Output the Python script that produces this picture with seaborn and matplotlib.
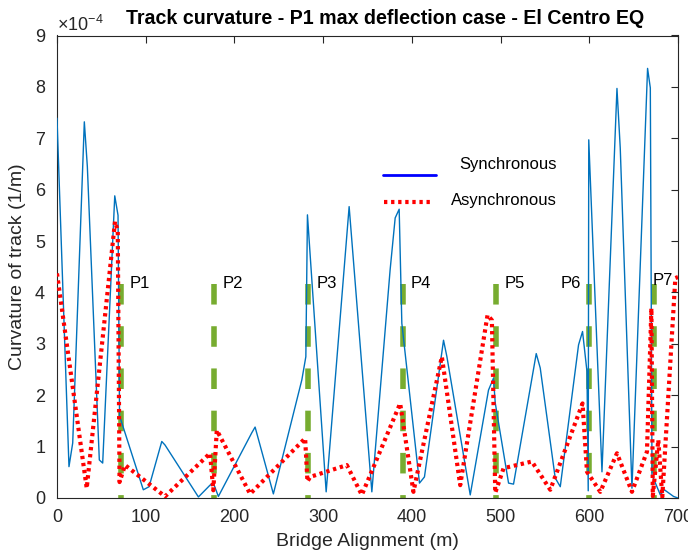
import matplotlib
matplotlib.use("Agg")
import matplotlib.pyplot as plt
from matplotlib.lines import Line2D
import numpy as np
import pandas as pd
import seaborn as sns

# Bridge alignment positions (m) and track curvature (x1e-4 1/m)
sync_x = [0, 13.5, 17.7, 30.8, 34.2, 47.7, 51.5, 65.1, 68.8, 70.5, 97.3, 103.8,
          118.1, 121.8, 159.4, 172.5, 176.3, 181.9, 219.6, 223.3, 243.9, 276.0,
          280.5, 282.3, 303.4, 329.3, 354.9, 375.5, 381.2, 385.7, 388.7, 408.6,
          414.2, 435.7, 439.5, 465.8, 486.4, 492.0, 494.0, 509.0, 514.6, 540.2,
          544.7, 561.6, 567.3, 587.9, 592.4, 597.4, 598.8, 599.4, 614.3, 631.2,
          634.9, 648.1, 665.7, 668.8, 670.7, 680.1, 684.6, 695.0, 700.0]
sync_k = [7.39, 0.61, 1.07, 7.32, 6.45, 0.74, 0.68, 5.88, 5.50, 1.60, 0.16, 0.22,
          1.10, 1.03, 0.02, 0.25, 0.29, 0.03, 1.27, 1.38, 0.08, 2.30,
          2.75, 5.51, 0.12, 5.67, 0.12, 4.44, 5.45, 5.62, 3.40, 0.29,
          0.41, 3.07, 2.75, 0.06, 2.10, 2.33, 1.85, 0.29, 0.27, 2.81,
          2.53, 0.39, 0.22, 2.98, 3.24, 2.46, 0.14, 6.97, 0.51, 7.97,
          6.81, 0.19, 8.36, 7.98, 0.45, 0.06, 0.16, 0.03, 0.0]

async_x = [0, 33.5, 65.4, 68.5, 70.5, 76.7, 121.8, 172.5, 176.2, 180.1, 217.7,
           279.7, 282.3, 285.3, 326.7, 343.6, 386.8, 401.8, 433.8, 454.5, 485.3,
           490.2, 494.0, 503.4, 535.3, 556.0, 592.4, 597.4, 612.4, 631.2, 648.1,
           665.0, 670.0, 671.6, 677.8, 682.3, 697.0, 700.0]
async_k = [4.37, 0.19, 5.38, 5.20, 0.31, 0.64, 0.03, 0.87, 0.15, 1.32, 0.08,
           1.16, 0.32, 0.41, 0.64, 0.06, 1.84, 0.12, 2.75, 0.25, 3.56,
           3.46, 0.10, 0.58, 0.71, 0.16, 1.84, 0.51, 0.12, 0.87, 0.12,
           0.90, 3.69, 0.04, 1.13, 0.02, 4.28, 4.30]

pier_names = ["P1", "P2", "P3", "P4", "P5", "P6", "P7"]
pier_x = [72.2, 176.8, 283.4, 389.5, 495.0, 600.0, 672.5]
pier_mark_height = 4.16

series_names = ["Synchronous", "Asynchronous"]
title = "Track curvature - P1 max deflection case - El Centro EQ"

sns.set_theme(style="white")
plt.rcParams["font.family"] = ["Liberation Sans", "DejaVu Sans"]
plt.rcParams["mathtext.fontset"] = "custom"
plt.rcParams["mathtext.rm"] = "Liberation Sans"

sync_df = pd.DataFrame({"x": sync_x, "k": np.array(sync_k) * 1e-4})
async_df = pd.DataFrame({"x": async_x, "k": np.array(async_k) * 1e-4})

fig = plt.figure(figsize=(6.88, 5.57), dpi=100)
ax = fig.add_axes([57 / 688, 1 - 498 / 557, (678 - 57) / 688, (498 - 35.5) / 557])

dotted = (0, (0.8, 0.9))

# pier markers
for name, px in zip(pier_names, pier_x):
    ax.plot([px, px], [pier_mark_height * 1e-4, 0], color="#77AC30", lw=4.0,
            linestyle=(0, (3.7, 3.9)), solid_capstyle="butt", zorder=2)

sns.lineplot(data=sync_df, x="x", y="k", ax=ax, color="#0072BD", lw=1.0,
             estimator=None, sort=False, zorder=3)
sns.lineplot(data=async_df, x="x", y="k", ax=ax, color="red", lw=3.0,
             linestyle=dotted, estimator=None, sort=False, zorder=4)

for name, px in zip(pier_names, pier_x):
    if name == "P6":
        ax.annotate(name, (px, 4.18e-4), xytext=(-6, 0), textcoords="offset points",
                    ha="right", va="center", fontsize=12, color="black")
    elif name == "P7":
        ax.annotate(name, (px, 4.24e-4), xytext=(-1, 0), textcoords="offset points",
                    ha="left", va="center", fontsize=12, color="black")
    else:
        ax.annotate(name, (px, 4.18e-4), xytext=(6, 0), textcoords="offset points",
                    ha="left", va="center", fontsize=12, color="black")

ax.set_xlim(0, 700)
ax.set_ylim(0, 9e-4)
ax.set_xticks(np.arange(0, 701, 100))
ax.set_yticks(np.arange(0, 9.01e-4, 1e-4))
ax.ticklabel_format(axis="y", style="sci", scilimits=(-4, -4), useMathText=True)
ax.yaxis.get_offset_text().set_fontsize(13)
ax.yaxis.get_offset_text().set_color("#404040")

for s in ax.spines.values():
    s.set_visible(True)
    s.set_color("#262626")
    s.set_linewidth(0.8)
ax.tick_params(direction="in", length=5, width=0.8, top=True, right=True,
               labelsize=13, colors="#262626", pad=8)
ax.tick_params(axis="both", labelcolor="#262626")

ax.set_xlabel("Bridge Alignment (m)", fontsize=14, color="#262626", labelpad=5)
ax.set_ylabel("Curvature of track (1/m)", fontsize=14, color="#262626", labelpad=6)
fig.text(385 / 688, 1 - 18 / 557, title, ha="center", va="center",
         fontsize=14.1, fontweight="bold", color="black")

# key for the two series, drawn in axes fractions
ax.add_line(Line2D([0.525, 0.610], [0.698, 0.698], transform=ax.transAxes,
                   color="blue", lw=2.0))
ax.add_line(Line2D([0.527, 0.603], [0.640, 0.640], transform=ax.transAxes,
                   color="red", lw=3.0, linestyle=dotted))
ax.text(0.805, 0.720, series_names[0], transform=ax.transAxes, ha="right",
        va="center", fontsize=12, color="black")
ax.text(0.805, 0.644, series_names[1], transform=ax.transAxes, ha="right",
        va="center", fontsize=12, color="black")

fig.savefig("out.png", dpi=100)
